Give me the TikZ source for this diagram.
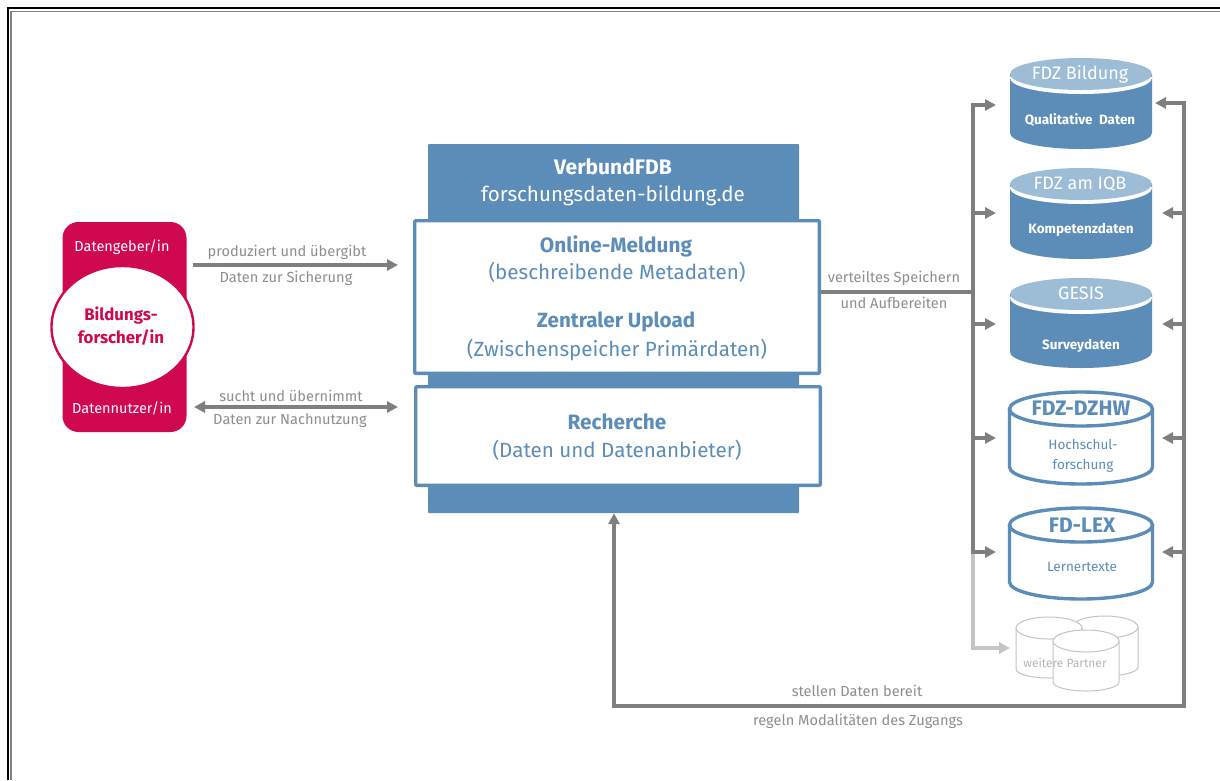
\documentclass[tikz,border=0pt]{standalone}
\usepackage{fontspec}
\setmainfont{Fira Sans}
\usetikzlibrary{arrows.meta}
\definecolor{fblue}{HTML}{5B8DB8}
\definecolor{ftop}{HTML}{9DBDD6}
\definecolor{fmag}{HTML}{D0084F}
\definecolor{fgrey}{HTML}{7F7F7F}
\definecolor{ftxt}{HTML}{8E8E8E}
\definecolor{flight}{HTML}{C4C4C4}
\newcommand{\fs}[1]{\fontsize{#1}{#1}\selectfont}
\tikzset{
  x=1pt,y=-1pt,
  conn/.style={draw=fgrey,line width=3.6pt,-{Triangle[length=11pt,width=11pt]}},
  bus/.style={draw=fgrey,line width=3.6pt},
  panel/.style={draw=fblue,line width=3.4pt,fill=white,rounded corners=1pt},
  lab/.style={text=ftxt,font=\fs{14.6},inner sep=0pt},
  main/.style={text=fblue,inner sep=0pt,align=center},
  cyltxt/.style={inner sep=0pt,align=center},
}
% filled cylinder: #1 cx, #2 top y, #3 bottom y
\newcommand{\cylfill}[3]{%
  \fill[fblue] (#1-71,#2+16) -- (#1-71,#3-16) arc[x radius=71pt,y radius=16pt,start angle=180,end angle=360] -- (#1+71,#2+16) -- cycle;
  \fill[white] (#1,#2+20) ellipse[x radius=71pt,y radius=16pt];
  \fill[ftop] (#1,#2+16) ellipse[x radius=71pt,y radius=16pt];
}
\newcommand{\cylline}[3]{%
  \draw[fblue,line width=3.4pt,fill=white] (#1-71.5,#2+19) -- (#1-71.5,#3-18) arc[x radius=71.5pt,y radius=17pt,start angle=180,end angle=360] -- (#1+71.5,#2+19);
  \draw[fblue,line width=3.4pt,fill=white] (#1,#2+19) ellipse[x radius=71.5pt,y radius=17pt];
}
\newcommand{\cylgrey}[3]{%
  \draw[flight,line width=1pt,fill=white] (#1-33,#2+11) -- (#1-33,#3-9) arc[x radius=33pt,y radius=9pt,start angle=180,end angle=360] -- (#1+33,#2+11);
  \draw[flight,line width=1pt,fill=white] (#1,#2+11) ellipse[x radius=33pt,y radius=11pt];
}
\begin{document}
\begin{tikzpicture}
\useasboundingbox (0,0) rectangle (1220,780);
\fill[white] (0,0) rectangle (1220,780);
% frame
\draw[black,line width=2.4pt] (8,780) -- (8,8) -- (1220,8);
\draw[gray,line width=1.4pt] (10.8,780) -- (10.8,11.5) -- (1220,11.5);

% left actor
\node[fill=fmag,rounded corners=16pt,minimum width=124pt,minimum height=210pt,inner sep=0pt] (actor) at (124.5,327) {};
\draw[fmag,line width=2.4pt,fill=white] (122.5,327) ellipse[x radius=71pt,y radius=61pt];
\node (geb) [text=white,font=\fs{14.5},inner sep=0pt] at (122,247) {Datengeber/in};
\node (nutz) [text=white,font=\fs{14.5},inner sep=0pt] at (122,408) {Datennutzer/in};
\node (forsch) [text=fmag,font=\fs{16.8}\bfseries,align=center,inner sep=0pt] at (121,326) {Bildungs-\\[5pt]forscher/in};
\coordinate (actorR1) at (193,265);
\coordinate (actorR2) at (194,407);
\coordinate (inR1) at (398,265);
\coordinate (inR2) at (398,407);

% central block
\node[fill=fblue,minimum width=371pt,minimum height=369pt,inner sep=0pt,rounded corners=1pt] (block) at (613.5,328.5) {};
\node[panel,minimum width=404.6pt,minimum height=152.6pt,inner sep=0pt] (upper) at (617,297) {};
\node[panel,minimum width=404.6pt,minimum height=98.6pt,inner sep=0pt] (lower) at (618,436) {};
\node[main,text=white,font=\fs{21}\bfseries] at (613,167) {VerbundFDB};
\node[main,text=white,font=\fs{20.6}] at (613,196) {forschungsdaten-bildung.de};
\node[main,font=\fs{20.8}\bfseries] at (616,246.5) {Online-Meldung};
\node[main,font=\fs{20.6}] at (617,272.5) {(beschreibende Metadaten)};
\node[main,font=\fs{20.6}\bfseries] at (616,321.5) {Zentraler Upload};
\node[main,font=\fs{20.6}] at (617,350) {(Zwischenspeicher Primärdaten)};
\node[main,font=\fs{20.8}\bfseries] at (617,422) {Recherche};
\node[main,font=\fs{20.6}] at (617,450) {(Daten und Datenanbieter)};

% left arrows
\draw[conn] (actorR1) -- (inR1);
\draw[conn,{Triangle[length=11pt,width=11pt]}-{Triangle[length=11pt,width=11pt]}] (actorR2) -- (inR2);
\node[lab] at (287,252) {produziert und übergibt};
\node[lab] at (286,278) {Daten zur Sicherung};
\node[lab] at (291,396) {sucht und übernimmt};
\node[lab] at (290,421) {Daten zur Nachnutzung};

% cylinders
\cylfill{1081}{58}{149}
\cylfill{1081}{168}{259}
\cylfill{1081}{278}{368}
\cylline{1081}{390}{485}
\cylline{1081}{506}{600}
\cylgrey{1105}{616}{676}
\cylgrey{1049}{617}{678}
\cylgrey{1086}{630}{691}
\node (c1t) [cyltxt,text=white,font=\fs{18}] at (1080,74) {FDZ Bildung};
\node (c1b) [cyltxt,text=white,font=\fs{13.5}\bfseries] at (1080,120) {Qualitative\ \ Daten};
\node (c2t) [cyltxt,text=white,font=\fs{18}] at (1080,184) {FDZ am IQB};
\node (c2b) [cyltxt,text=white,font=\fs{13.5}\bfseries] at (1081,230) {Kompetenzdaten};
\node (c3t) [cyltxt,text=white,font=\fs{18}] at (1081,293) {GESIS};
\node (c3b) [cyltxt,text=white,font=\fs{13.5}\bfseries] at (1081,346) {Surveydaten};
\node (c4t) [cyltxt,text=fblue,font=\fs{21}\bfseries] at (1081,408) {FDZ-DZHW};
\node (c4b) [cyltxt,text=fblue,font=\fs{13.5}] at (1083,456) {Hochschul-\\[7pt]forschung};
\node (c5t) [cyltxt,text=fblue,font=\fs{21}\bfseries] at (1082,525) {FD-LEX};
\node (c5b) [cyltxt,text=fblue,font=\fs{13.5}] at (1082,567) {Lernertexte};
\node (c6b) [cyltxt,text=flight!80!gray,font=\fs{12}] at (1065,663) {weitere Partner};

% named anchors for connectors
\coordinate (busTop) at (973,105);
\coordinate (busMid) at (973,292);
\coordinate (busEnd) at (973,552);
\coordinate (busLow) at (973,648);
\coordinate (ret) at (1184,706);
\coordinate (retTop) at (1184,103);
\coordinate (retL) at (614,706);

% distributor
\draw[conn,draw=flight,line width=3.2pt] (busEnd) -- (busLow) -- (1010,648);
\draw[bus] (upper.east |- busMid) -- (busMid);
\draw[bus,line cap=rect] (busTop) -- (busEnd);
\draw[conn] (busTop) -- (996,105);
\draw[conn] (973,213) -- (996,213);
\draw[conn] (973,324) -- (996,324);
\draw[conn] (973,438) -- (996,438);
\draw[conn] (busEnd) -- (996,552);
\node[lab] at (894,278) {verteiltes Speichern};
\node[lab] at (894,303) {und Aufbereiten};

% return
\draw[conn] (retTop) -- (1155,103);
\draw[bus,line cap=rect] (retTop) -- (ret);
\draw[conn] (ret) -- (retL) -- (block.south -| retL);
\draw[conn] (1184,213) -- (1162,213);
\draw[conn] (1184,324) -- (1162,324);
\draw[conn] (1184,438) -- (1162,438);
\draw[conn] (1184,552) -- (1162,552);
\node[lab] at (857,691) {stellen Daten bereit};
\node[lab] at (858,721) {regeln Modalitäten des Zugangs};
\end{tikzpicture}
\end{document}
